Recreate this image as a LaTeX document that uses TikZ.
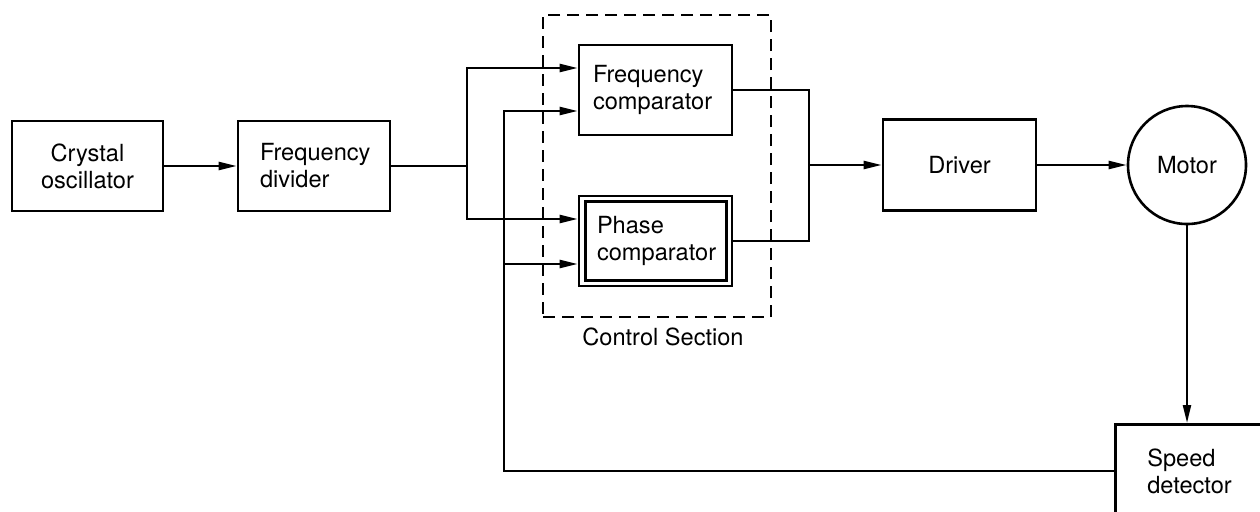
\documentclass[tikz,border=0pt]{standalone}
\usepackage{fontspec}
\setmainfont{TeX Gyre Heros}
\usetikzlibrary{arrows.meta}
\newcommand{\blockfont}{\fontsize{11.8pt}{13.5pt}\selectfont}
\begin{document}
\begin{tikzpicture}[x=0.5pt,y=-0.5pt,
  blk/.style={draw, line width=1.3pt, minimum height=45pt, inner ysep=0pt, font=\blockfont},
  conn/.style={line width=1.1pt},
  arr/.style={line width=1.1pt, -{Triangle[length=9pt,width=4pt]}},
  dashbox/.style={draw, line width=1.1pt, dash pattern=on 6pt off 3.5pt, minimum width=114pt, minimum height=151pt, inner sep=0pt}
]
\useasboundingbox (0,0) rectangle (1260,511);
\clip (0,0) rectangle (1260,511);

% blocks
\node[blk, align=center, text width=75.5pt, inner xsep=0pt] (osc) at (87.5,166) {Crystal\\oscillator};
\node[blk, align=left, text width=54pt, inner xsep=11pt] (div) at (314,166) {Frequency\\divider};
\node[blk, align=left, text width=62.5pt, inner xsep=7pt] (fc) at (655.5,90) {Frequency\\comparator};
\node[blk, align=left, text width=58.5pt, inner xsep=9pt] (pc) at (655.5,241) {Phase\\comparator};
\draw[line width=1.3pt] ([shift={(3.8pt,-3.3pt)}]pc.north west) rectangle ([shift={(-3.3pt,3.5pt)}]pc.south east);
\node[dashbox] (ctrl) at (657,166) {};
\node[font=\blockfont, anchor=north] (ctrllbl) at (663,321) {Control Section};
\node[blk, align=center, text width=76.5pt, inner xsep=0pt, minimum height=45.5pt] (drv) at (959.5,165) {Driver};
\node[draw, circle, line width=1.3pt, minimum size=59pt, inner sep=0pt, font=\blockfont] (motor) at (1187,165) {Motor};
\node[blk, anchor=north west, align=left, text width=80pt, inner xsep=16pt, minimum height=47pt] (sd) at (1114,423) {Speed\\detector};

% helper coordinates
\path (div.east) ++(76,0) coordinate (j1);
\coordinate (fcin1) at ([yshift=11pt]fc.west);
\coordinate (fcin2) at ([yshift=-10.5pt]fc.west);
\coordinate (pcin1) at ([yshift=11pt]pc.west);
\coordinate (pcin2) at ([yshift=-11.5pt]pc.west);
\path (pcin2) ++(-74,0) coordinate (fb);
\path (fc.east) ++(76,0) coordinate (m1);

% connectors
\draw[arr] (osc.east) -- (div.west);
\draw[conn] (div.east) -- (j1);
\draw[arr] (j1) |- (fcin1);
\draw[arr] (j1) |- (pcin1);
\draw[arr] (sd.west) -| (fb) |- (fcin2);
\draw[arr] (fb) -- (pcin2);
\draw[conn] (fc.east) -- (m1) |- (pc.east);
\draw[arr] (m1 |- drv.west) -- (drv.west);
\draw[arr] (drv.east) -- (motor.west);
\draw[arr] (motor.south) -- (motor.south |- sd.north);
\end{tikzpicture}
\end{document}
